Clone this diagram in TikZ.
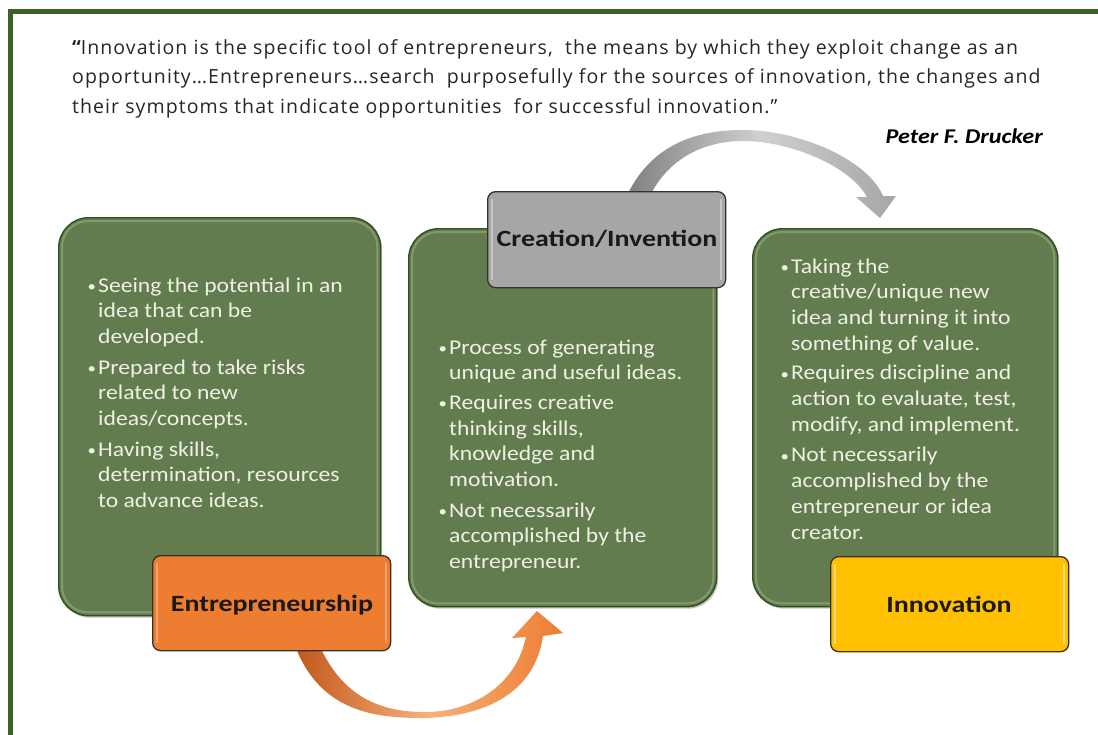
\documentclass[tikz,border=0pt]{standalone}
\usepackage{fontspec}
\setmainfont{Carlito}
\newfontfamily\quotefont[LetterSpace=5.5]{Open Sans}
\usetikzlibrary{shadows}
\definecolor{frame}{HTML}{3F6125}
\definecolor{gfill}{HTML}{627C4F}
\definecolor{gedge}{HTML}{33501F}
\definecolor{ghigh}{HTML}{9DB587}
\definecolor{btext}{HTML}{F0F1E4}
\definecolor{orng}{HTML}{ED7D31}
\definecolor{orngd}{HTML}{C0561A}
\definecolor{orngl}{HTML}{F7B07A}
\definecolor{gry}{HTML}{A6A6A6}
\definecolor{gryd}{HTML}{7F7F7F}
\definecolor{gryl}{HTML}{D0D0D0}
\definecolor{ylw}{HTML}{FFC000}
\definecolor{ledge}{HTML}{3A3028}
\tikzset{
  gbox/.style={draw=gedge, line width=1.4pt, fill=gfill, rounded corners=30pt, anchor=north west,
    drop shadow={shadow xshift=1.5pt, shadow yshift=-2pt, opacity=0.45}},
  lbox/.style={draw=ledge, line width=1.3pt, rounded corners=8pt, anchor=north west,
    minimum width=238pt, minimum height=95pt, inner sep=0pt},
  ltxt/.style={anchor=base, inner sep=0pt, font=\fontsize{23.3}{26}\selectfont\bfseries, text=black!90},
  btxt/.style={anchor=base west, inner sep=0pt, text=btext,
    font=\fontsize{21}{25.7}\selectfont}
}
\newcommand{\bul}{\leavevmode\llap{\raisebox{0.5pt}{\fontsize{15}{15}\selectfont\textbullet}\hspace{2pt}}}
\newcommand{\btext}[1]{\scalebox{1.125}[1]{\parbox[t]{280pt}{\raggedright #1}}}
\newcommand{\lstretch}[1]{\scalebox{1.2}[1]{#1}}
\begin{document}
\begin{tikzpicture}[x=1pt,y=-1pt]
\useasboundingbox (0,0) rectangle (1098,734);
\clip (0,0) rectangle (1098,734);
\fill[white] (0,0) rectangle (1098,734);
% frame
\draw[frame, line width=5pt] (10.5,750) -- (10.5,11.5) -- (1110,11.5);
% quote
\node[anchor=base west, inner sep=0pt, font=\quotefont\fontsize{19.5}{29.5}\selectfont, text=black!85] (quote) at (72,54)
 {\parbox[t]{1010pt}{{\bfseries “}Innovation is the specific tool of entrepreneurs,\ \ the means by which they exploit change as an\\
 opportunity…Entrepreneurs…search \ purposefully for the sources of innovation, the changes and\\
 their symptoms that indicate opportunities \ for successful innovation.”}};
\node[anchor=base east, inner sep=0pt, font=\fontsize{21}{24}\selectfont\bfseries\itshape] (author) at (1043,143) {\scalebox{1.15}[1]{Peter F. Drucker}};

% arrows (behind boxes)
\coordinate (oa1) at (293,640);
\coordinate (oa2) at (317,640);
\coordinate (otip) at (537,611);
\shade[left color=orngd, right color=orng, middle color=orngl]
  (oa1) .. controls (318,715) and (380,718) .. (425,718)
  .. controls (490,716) and (535,690) .. (543,636)
  -- (563,633) -- (otip) -- (512,638) -- (526,637)
  .. controls (515,688) and (470,711) .. (428,712)
  .. controls (372,713) and (338,690) .. (oa2) -- cycle;
\coordinate (ga1) at (625,200);
\coordinate (ga2) at (648,200);
\coordinate (gtip) at (880,218);
\shade[left color=gryd, right color=gry, middle color=gryl]
  (ga1) .. controls (650,142) and (700,130) .. (743,130)
  .. controls (800,130) and (868,160) .. (883,196)
  -- (896,196) -- (gtip) -- (856,197) -- (867,197)
  .. controls (850,166) and (790,141) .. (743,141)
  .. controls (702,141) and (666,160) .. (ga2) -- cycle;

% green boxes
\node[gbox, minimum width=322pt, minimum height=398pt] (b1) at (58,217) {};
\node[gbox, minimum width=308pt, minimum height=378pt] (b2) at (408,228) {};
\node[gbox, minimum width=305pt, minimum height=378pt] (b3) at (752,228) {};
\foreach \b in {b1,b2,b3}
  \draw[ghigh, line width=2pt, opacity=0.55, rounded corners=26pt] ([shift={(4pt,-4pt)}]\b.north west) rectangle ([shift={(-4pt,4pt)}]\b.south east);

% box texts
\node[btxt] (t1) at (98,292)
 {\btext{\bul Seeing the potential in an\\ idea that can be\\ developed.\\[5pt]
  \bul Prepared to take risks\\ related to new\\ ideas/concepts.\\[5pt]
  \bul Having skills,\\ determination, resources\\ to advance ideas.}};
\node[btxt] (t2) at (449,354)
 {\btext{\bul Process of generating\\ unique and useful ideas.\\[4pt]
  \bul Requires creative\\ thinking skills,\\ knowledge and\\ motivation.\\[5pt]
  \bul Not necessarily\\ accomplished by the\\ entrepreneur.}};
\node[btxt] (t3) at (791,273)
 {\btext{\bul Taking the\\ creative/unique new\\ idea and turning it into\\ something of value.\\[4pt]
  \bul Requires discipline and\\ action to evaluate, test,\\ modify, and implement.\\[5pt]
  \bul Not necessarily\\ accomplished by the\\ entrepreneur or idea\\ creator.}};

% label boxes
\node[lbox, fill=orng] (l1) at (152,555) {};
\node[lbox, fill=gry, minimum height=96pt] (l2) at (487,191) {};
\node[lbox, fill=ylw] (l3) at (830,556) {};
\foreach \n/\c in {l1/orngl, l2/gryl, l3/ylw!40!white}{
  \draw[\c, line width=2.2pt, opacity=0.8] ([shift={(5pt,-8pt)}]\n.north west) -- ([shift={(5pt,8pt)}]\n.south west);
  \draw[\c, line width=2.2pt, opacity=0.8] ([shift={(-5pt,-8pt)}]\n.north east) -- ([shift={(-5pt,8pt)}]\n.south east);
}
\node[ltxt] (lt1) at (272,611) {\lstretch{Entrepreneurship}};
\node[ltxt] (lt2) at (607,246) {\lstretch{Creation/Invention}};
\node[ltxt] (lt3) at (949,612) {\lstretch{Innovation}};
\end{tikzpicture}
\end{document}
